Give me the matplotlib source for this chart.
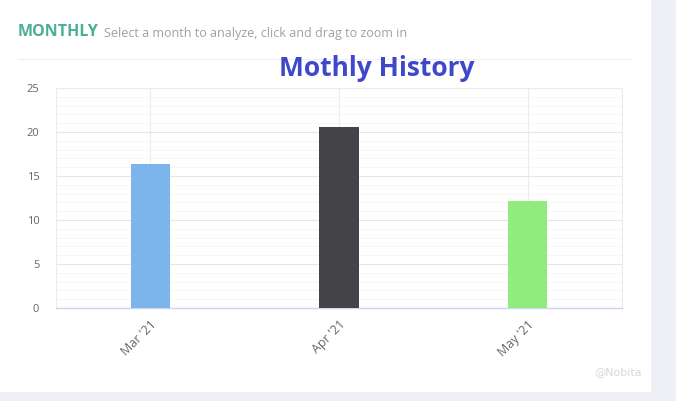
import matplotlib.pyplot as plt
import numpy as np

# data
months = ["Mar '21", "Apr '21", "May '21"]
values = [16.4, 20.6, 12.2]
bar_colors = ["#7cb5ec", "#434348", "#90ed7d"]
y_ticks = [0, 5, 10, 15, 20, 25]

fig = plt.figure(figsize=(6.76, 4.01), dpi=100)
fig.patch.set_facecolor("#eef0f6")

# white card behind the chart
card = plt.Rectangle((0, 9 / 401), 651 / 676, 392 / 401, transform=fig.transFigure,
                     facecolor="white", edgecolor="none", zorder=-1)
fig.patches.append(card)

# header
fig.text(18 / 676, 1 - 32 / 401, "MONTHLY", color="#4dae96", fontsize=11.5,
         fontweight="bold", va="center", family="Open Sans")
fig.text(104 / 676, 1 - 33 / 401, "Select a month to analyze, click and drag to zoom in",
         color="#a0a0a0", fontsize=9, va="center", family="Open Sans")
fig.add_artist(plt.Line2D([18 / 676, 630 / 676], [1 - 59 / 401, 1 - 59 / 401],
                          transform=fig.transFigure, color="#f0f0f0", lw=0.8))
fig.text(377 / 676, 1 - 69 / 401, "Mothly History", color="#3f48c8", fontsize=19,
         fontweight="bold", ha="center", va="center", family="Open Sans")

ax = fig.add_axes([56 / 676, 1 - 308 / 401, 566 / 676, 220 / 401])
ax.set_zorder(2)
ax.set_facecolor("white")
x = np.arange(len(months))
ax.bar(x, values, width=0.21, color=bar_colors, zorder=3)

ax.set_xlim(-0.5, len(months) - 0.5)
ax.set_ylim(0, 25)
ax.set_yticks(y_ticks)
ax.set_yticks(np.arange(0, 26, 1), minor=True)
ax.set_xticks(x)
ax.set_xticklabels(months, rotation=45, ha="right", rotation_mode="anchor",
                   color="#666666", fontsize=9, family="Open Sans")
for lab in ax.get_yticklabels():
    lab.set_color("#666666")
    lab.set_fontsize(8)
    lab.set_family("Open Sans")

ax.grid(axis="y", which="major", color="#e6e6e6", lw=0.8, zorder=0)
ax.grid(axis="y", which="minor", color="#f5f5f5", lw=0.6, zorder=0)
ax.grid(axis="x", which="major", color="#ececec", lw=0.8, zorder=0)
ax.tick_params(axis="both", which="both", length=0)
ax.tick_params(axis="y", pad=12)
ax.tick_params(axis="x", pad=7)
for side in ["top", "left", "right"]:
    ax.spines[side].set_color("#ececec")
    ax.spines[side].set_linewidth(0.8)
ax.spines["bottom"].set_color("#ccd6eb")
ax.spines["bottom"].set_linewidth(1)

# faint watermark
fig.text(594 / 676, 1 - 372 / 401, "@Nobita", color="#d8d8d8", fontsize=8,
         va="center", family="DejaVu Sans")

fig.savefig("out.png", dpi=100, facecolor=fig.get_facecolor())
